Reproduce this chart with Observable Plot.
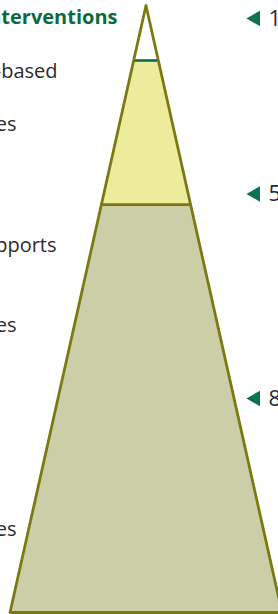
<!DOCTYPE html>
<html><head><meta charset="utf-8">
<script src="https://cdn.jsdelivr.net/npm/d3@7"></script>
<script src="https://cdn.jsdelivr.net/npm/@observablehq/plot@0.6"></script>
<style>html,body{margin:0;padding:0;background:#fff;overflow:hidden}#chart svg{display:block}</style>
</head><body><div id="chart"></div>
<script>
// ---- data ----
const tiers = ["Tier 3", "Tier 2", "Tier 1"];
const tierTop = [0, 0.0906, 0.328];      // share of pyramid height, from apex
const tierBottom = [0.0906, 0.328, 1];
const titleLines = ["Tier 3: Intensive interventions"];
const leftLines = ["Individualized, evidence-based", "strategies",
                   "Targeted small-group supports", "and strategies", "Universal practices"];
const rightLabels = ["1–5%", "5–15%", "80–90%"];

// ---- layout (pixels) ----
const W = 278, H = 614;
const xs = d3.scaleLinear().domain([-1, 1]).range([9.5, 281.5]);
const ys = d3.scaleLinear().domain([0, 1]).range([5, 612]);
const titleRight = [117], titleBase = [23];
const leftRight = [57, 16, 56, 16, 16];
const leftBase = [77, 130, 251.5, 331.5, 535];
const rightBase = [25, 200.5, 405];
const FS = 20, RFS = 22;
const font = "'Open Sans', 'Liberation Sans', Arial, sans-serif";

const areaData = tiers.flatMap((t, i) => [
  {tier: t, y: tierTop[i], x1: -tierTop[i], x2: tierTop[i]},
  {tier: t, y: tierBottom[i], x1: -tierBottom[i], x2: tierBottom[i]}
]);
const outline = [{x: -1, y: 1}, {x: 0, y: 0}, {x: 1, y: 1}, {x: -1, y: 1}];
const bounds = tierBottom.slice(0, 2).map((b, i) => ({y: b, x1: -b, x2: b, i}));
const titleData = titleLines.map((s, i) => ({s, x: xs.invert(titleRight[i]), y: ys.invert(titleBase[i] - 0.32 * FS)}));
const leftData = leftLines.map((s, i) => ({s, x: xs.invert(leftRight[i]), y: ys.invert(leftBase[i] - 0.32 * FS)}));
const rightData = rightLabels.map((s, i) => ({s, y: ys.invert(rightBase[i] - 0.32 * RFS)}));

const chart = Plot.plot({
  width: W, height: H, margin: 0,
  style: {fontFamily: font, background: "#fff"},
  x: {domain: [-1, 1], range: [9.5, 281.5], axis: null},
  y: {domain: [0, 1], range: [5, 612], axis: null},
  color: {domain: tiers, range: ["#ffffff", "#ecec9c", "#cbcea6"]},
  marks: [
    Plot.areaX(areaData, {y: "y", x1: "x1", x2: "x2", z: "tier", fill: "tier", curve: "linear"}),
    Plot.ruleY(bounds, {y: "y", x1: "x1", x2: "x2", stroke: d => d.i === 0 ? "#0b6e4a" : "#7b7a12", strokeWidth: 2.6}),
    Plot.line(outline, {x: "x", y: "y", stroke: "#7b7a12", strokeWidth: 2.8, strokeLinejoin: "round"}),
    Plot.text(titleData, {x: "x", y: "y", text: "s", textAnchor: "end", fontSize: FS, fontWeight: "bold", fill: "#0b6a3f"}),
    Plot.text(leftData, {x: "x", y: "y", text: "s", textAnchor: "end", fontSize: FS, fill: "#2b2b2b"}),
    Plot.dot(rightData, {x: xs.invert(255), y: "y", symbol: "triangle", rotate: -90, r: 5.8, fill: "#0b7350", stroke: null}),
    Plot.text(rightData, {x: xs.invert(268), y: "y", text: "s", textAnchor: "start", fontSize: RFS, fill: "#2b2b2b"})
  ]
});
document.getElementById("chart").append(chart);
</script></body></html>
